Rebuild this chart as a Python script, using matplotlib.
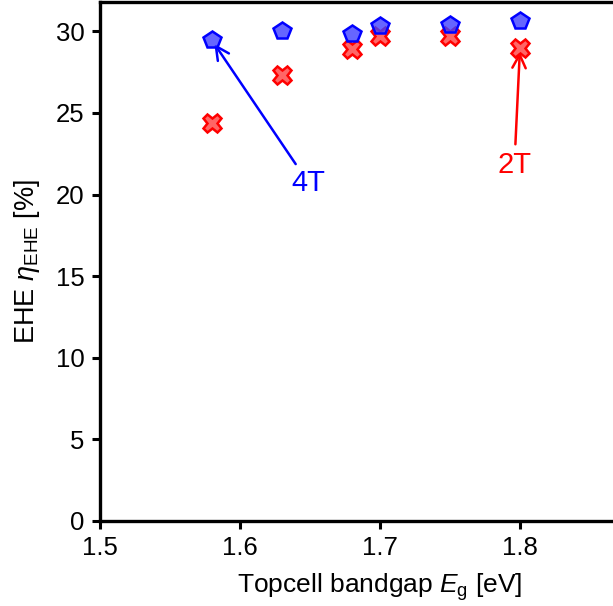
import numpy as np
import matplotlib
matplotlib.use("Agg")
import matplotlib.pyplot as plt

# topcell bandgap [eV]
eg = [1.58, 1.63, 1.68, 1.70, 1.75, 1.80]
# energy harvesting efficiency [%]
ehe_4t = [29.45, 30.0, 29.85, 30.3, 30.4, 30.65]
ehe_2t = [24.4, 27.3, 28.9, 29.7, 29.7, 29.0]

plt.rcParams["font.family"] = ["Liberation Sans", "DejaVu Sans"]
plt.rcParams["mathtext.fontset"] = "custom"
plt.rcParams["mathtext.rm"] = "Liberation Sans"
plt.rcParams["mathtext.it"] = "Liberation Sans:italic"

fig = plt.figure(figsize=(6.13, 6.06), dpi=100)
# axes runs a bit past the right edge, like the cropped original
ax = fig.add_axes([100 / 613, 85 / 606, 560 / 613, 519 / 606])

ax.plot(eg, ehe_2t, linestyle="none", marker="X", markersize=13,
        markerfacecolor=(1, 0.25, 0.25, 0.8), markeredgecolor="red",
        markeredgewidth=1.8, zorder=3)
ax.plot(eg, ehe_4t, linestyle="none", marker="p", markersize=13,
        markerfacecolor=(0.25, 0.25, 1, 0.8), markeredgecolor="blue",
        markeredgewidth=1.8, zorder=4)

ax.annotate("4T", xy=(eg[0], ehe_4t[0]), xytext=(1.649, 20.7),
            color="blue", fontsize=21, ha="center", va="center",
            arrowprops=dict(arrowstyle="->", color="blue", lw=1.8,
                            mutation_scale=24, shrinkA=2, shrinkB=3))
ax.annotate("2T", xy=(eg[-1], ehe_2t[-1]), xytext=(1.796, 21.8),
            color="red", fontsize=21, ha="center", va="center",
            arrowprops=dict(arrowstyle="->", color="red", lw=1.8,
                            mutation_scale=24, shrinkA=3, shrinkB=3))

ax.set_xlim(1.5, 1.9)
ax.set_ylim(0, 31.8)
ax.set_xticks([1.5, 1.6, 1.7, 1.8])
ax.set_yticks([0, 5, 10, 15, 20, 25, 30])
ax.set_xlabel(r"Topcell bandgap $E_\mathrm{g}$ [eV]", fontsize=19, labelpad=8)
ax.set_ylabel(r"EHE $\eta_\mathrm{EHE}$ [%]", fontsize=19.5, labelpad=10)

for s in ax.spines.values():
    s.set_linewidth(2.4)
ax.tick_params(direction="out", length=6, width=2.2, labelsize=18.5, pad=5)

fig.savefig("out.png", dpi=100)
